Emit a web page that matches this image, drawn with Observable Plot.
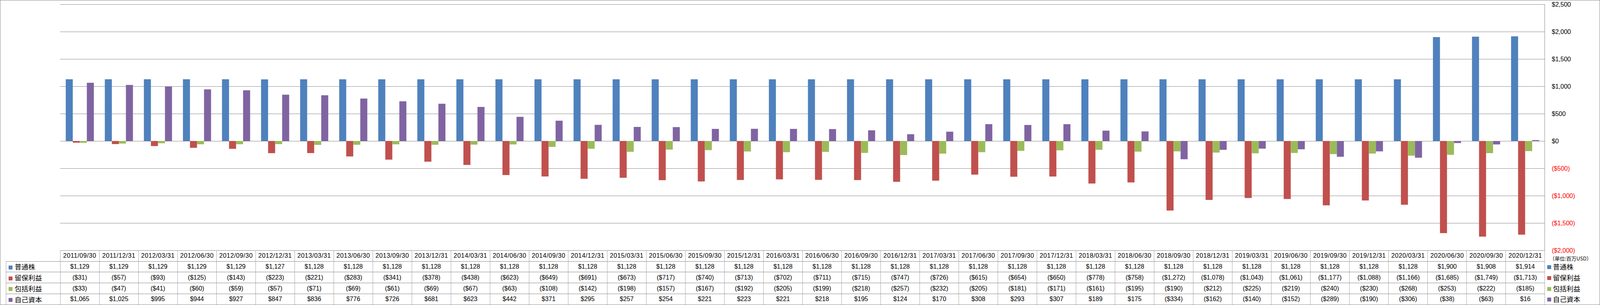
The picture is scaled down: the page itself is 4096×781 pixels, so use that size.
<!DOCTYPE html>
<html>
<head>
<meta charset="utf-8">
<script src="https://cdn.jsdelivr.net/npm/d3@7"></script>
<script src="https://cdn.jsdelivr.net/npm/@observablehq/plot@0.6"></script>
<style>
  html, body { margin: 0; padding: 0; background: #fff; }
  #root { position: relative; width: 4096px; height: 781px; overflow: hidden; background: #fff;
          font-family: "Liberation Sans", "Noto Sans CJK JP", sans-serif; }
  #border { position: absolute; left: 0; top: 0; width: 4096px; height: 781px; box-sizing: border-box;
            border: 1.5px solid #868686; pointer-events: none; }
  #chart { position: absolute; left: 0; top: 0; }
  #tbl { position: absolute; left: 14.6px; top: 640.8px; width: 3939.7px; table-layout: fixed;
         border-collapse: collapse; font-size: 16px; color: #000; }
  #tbl td { padding: 0; height: 26.8px; text-align: center; vertical-align: middle; white-space: nowrap;
            overflow: hidden; border-left: 1px solid #a6a6a6; border-right: 1px solid #a6a6a6;
            border-top: 1px solid #868686; border-bottom: 1px solid #868686; }
  #tbl td.date { letter-spacing: 0.6px; }
  #tbl td.blank { border-top: none; border-left: none; }
  #tbl td.name { text-align: left; font-family: "Noto Sans CJK JP", sans-serif; font-size: 17.5px; }
  .key { display: inline-block; width: 10px; height: 10px; vertical-align: middle; margin-left: 6px; margin-right: 6px; position: relative; top: -1px; }
  .rleg { position: absolute; left: 3960.5px; font-family: "Noto Sans CJK JP", sans-serif; font-size: 17.5px; white-space: nowrap; line-height: 20px; }
  .rleg .key { margin-left: 0; margin-right: 5px; }
  #unit { position: absolute; left: 3967px; top: 653px; font-family: "Noto Sans CJK JP", sans-serif; font-size: 13px; line-height: 18px; white-space: nowrap; }
</style>
</head>
<body>
<div id="root">
  <div id="chart"></div>
  <table id="tbl"></table>
  <div id="unit">（単位:百万USD）</div>
  <div id="rlegend"></div>
  <div id="border"></div>
</div>
<script>
const dates = ["2011/09/30","2011/12/31","2012/03/31","2012/06/30","2012/09/30","2012/12/31","2013/03/31","2013/06/30","2013/09/30","2013/12/31","2014/03/31","2014/06/30","2014/09/30","2014/12/31","2015/03/31","2015/06/30","2015/09/30","2015/12/31","2016/03/31","2016/06/30","2016/09/30","2016/12/31","2017/03/31","2017/06/30","2017/09/30","2017/12/31","2018/03/31","2018/06/30","2018/09/30","2018/12/31","2019/03/31","2019/06/30","2019/09/30","2019/12/31","2020/03/31","2020/06/30","2020/09/30","2020/12/31"];
const seriesNames = ["普通株","留保利益","包括利益","自己資本"];
const seriesColors = ["#4F81BD","#C0504D","#9BBB59","#8064A2"];
const commonStock = [1129,1129,1129,1129,1129,1127,1128,1128,1128,1128,1128,1128,1128,1128,1128,1128,1128,1128,1128,1128,1128,1128,1128,1128,1128,1128,1128,1128,1128,1128,1128,1128,1128,1128,1128,1900,1908,1914];
const retainedEarnings = [-31,-57,-93,-125,-143,-223,-221,-283,-341,-378,-438,-623,-649,-691,-673,-717,-740,-713,-702,-711,-715,-747,-726,-615,-654,-650,-778,-758,-1272,-1078,-1043,-1061,-1177,-1088,-1166,-1685,-1749,-1713];
const comprehensiveIncome = [-33,-47,-41,-60,-59,-57,-71,-69,-61,-69,-67,-63,-108,-142,-198,-157,-167,-192,-205,-199,-218,-257,-232,-205,-181,-171,-161,-195,-190,-212,-225,-219,-240,-230,-268,-253,-222,-185];
const equity = [1065,1025,995,944,927,847,836,776,726,681,623,442,371,295,257,254,221,223,221,218,195,124,170,308,293,307,189,175,-334,-162,-140,-152,-289,-190,-306,-38,-63,16];
const yTicks = [2500,2000,1500,1000,500,0,-500,-1000,-1500,-2000];

const seriesValues = [commonStock, retainedEarnings, comprehensiveIncome, equity];
const data = dates.flatMap((d, i) => seriesNames.map((s, j) => ({date: d, series: s, value: seriesValues[j][i]})));

const num = d3.format(",");
const fmt = v => v < 0 ? `($${num(-v)})` : `$${num(v)}`;

const S = 4096 / 7863;
const marginLeft = 295 * S;
const marginRight = 4096 - 7591 * S;
const axisFont = {fontSize: 16, fontFamily: "Liberation Sans, sans-serif"};

const chart = Plot.plot({
  width: 4096,
  height: 642,
  marginTop: 11,
  marginBottom: 1,
  marginLeft,
  marginRight,
  style: {background: "transparent", fontFamily: "Liberation Sans, sans-serif", fontSize: "16px", overflow: "visible"},
  fx: {domain: dates, padding: 0, axis: null},
  x: {domain: seriesNames, paddingInner: 0, paddingOuter: 0.75, axis: null},
  y: {domain: [-2000, 2500], axis: null},
  color: {domain: seriesNames, range: seriesColors},
  marks: [
    Plot.ruleY(yTicks, {stroke: "#868686", strokeWidth: 1}),
    Plot.barY(data, {fx: "date", x: "series", y: "value", fill: "series"}),
    Plot.frame({anchor: "right", stroke: "#868686", facetAnchor: "right"}),
    Plot.axisY(yTicks.filter(v => v >= 0), {anchor: "right", tickSize: 0, tickPadding: 18, tickFormat: fmt, fill: "#000", label: null, ...axisFont}),
    Plot.axisY(yTicks.filter(v => v < 0), {anchor: "right", tickSize: 0, tickPadding: 18, tickFormat: fmt, fill: "#ff0000", label: null, ...axisFont})
  ]
});
document.getElementById("chart").appendChild(chart);

// Data table under the chart
const tbl = d3.select("#tbl");
const cg = tbl.append("colgroup");
cg.append("col").style("width", (7591 * S - 14.6 - 38 * ((7591 - 295) * S / 38)) + "px");
const colW = (7591 - 295) * S / 38;
cg.select("col").style("width", (marginLeft - 14.6) + "px");
dates.forEach(() => cg.append("col").style("width", colW + "px"));
const head = tbl.append("tr");
head.append("td").attr("class", "blank");
dates.forEach(d => head.append("td").attr("class", "date").text(d));
seriesNames.forEach((s, j) => {
  const tr = tbl.append("tr");
  const nameCell = tr.append("td").attr("class", "name");
  nameCell.append("span").attr("class", "key").style("background", seriesColors[j]);
  nameCell.append("span").text(s);
  seriesValues[j].forEach(v => tr.append("td").text(fmt(v)));
});

// Right-side legend
const rowCenters = [683, 711, 739, 766];
const rl = d3.select("#rlegend");
seriesNames.forEach((s, j) => {
  const div = rl.append("div").attr("class", "rleg").style("top", (rowCenters[j] - 10) + "px");
  div.append("span").attr("class", "key").style("background", seriesColors[j]);
  div.append("span").text(s);
});
</script>
</body>
</html>
